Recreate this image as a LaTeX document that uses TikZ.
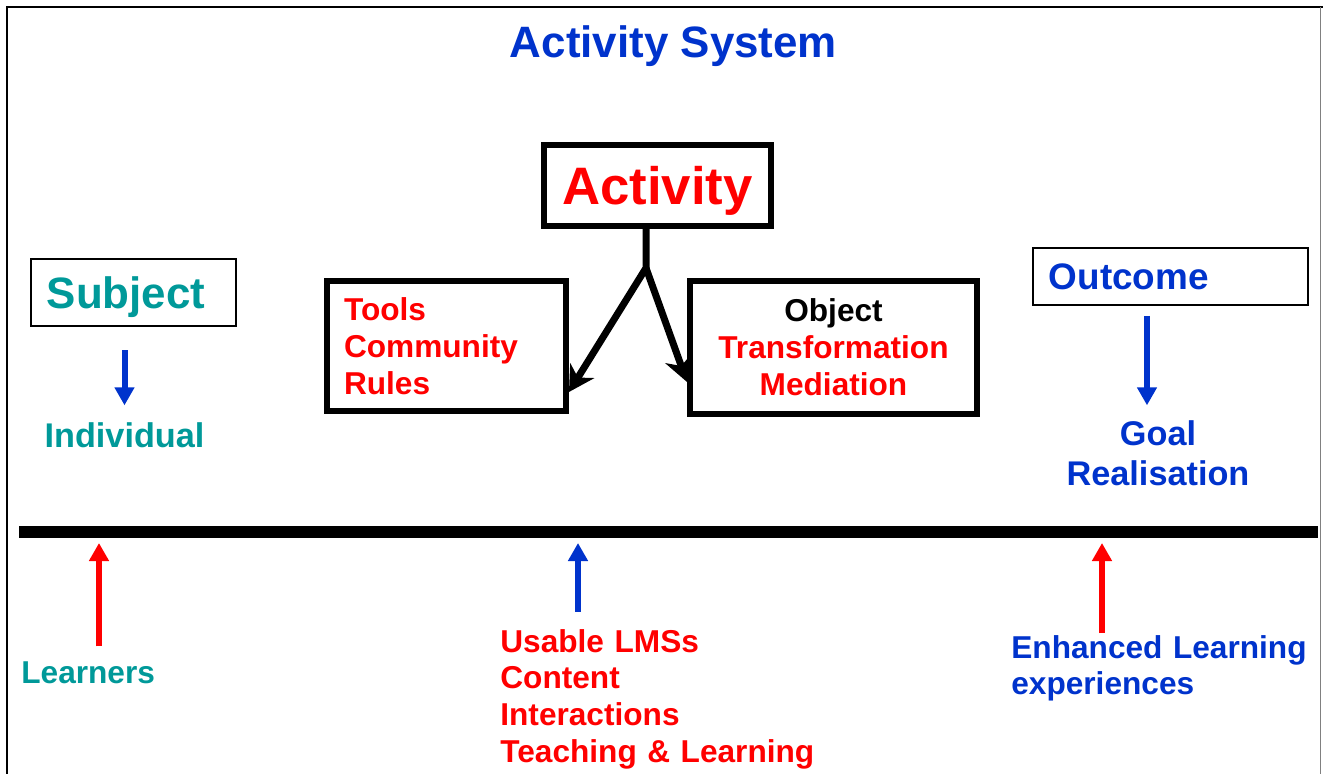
\documentclass[tikz,border=0pt]{standalone}
\usepackage{fontspec}
\setmainfont{Liberation Sans}
\usetikzlibrary{arrows.meta}
\definecolor{actred}{RGB}{255,0,0}
\definecolor{actblue}{RGB}{0,51,204}
\definecolor{actteal}{RGB}{0,153,153}

\begin{document}
\begin{tikzpicture}[x=0.02cm, y=-0.02cm,
thickbox/.style={rectangle, draw=black, line width=0.12cm, inner sep=0pt, font=\bfseries\fontsize{18}{21}\selectfont},
thinbox/.style={rectangle, draw=black, line width=0.03cm, inner xsep=0.32cm, inner ysep=0pt, align=left},
txtnode/.style={inner sep=0pt, font=\bfseries\fontsize{18}{21}\selectfont},
linkarrow/.style={line width=0.14cm, -{Stealth[length=0.5cm, width=0.56cm, inset=0.16cm]}},
smallarrow/.style={line width=0.12cm, -{Triangle[length=0.36cm, width=0.38cm]}},
]
    \useasboundingbox (0,0) rectangle (1323,774);

    \draw [line width=0.04cm] (7,774) -- (7,7) -- (1323,7);
    \draw [gray, line width=0.02cm] (1320,7) -- (1320,774);

    \node [txtnode, font=\bfseries\fontsize{25}{30}\selectfont, text=actblue, anchor=base] (t1) at (673.5,57) {Activity System};

    \node [thickbox, minimum width=4.54cm, minimum height=1.62cm, text depth=0pt, font=\bfseries\fontsize{30}{36}\selectfont, text=actred] (a1) at (657.5,185.5) {Activity};
    \node [thickbox, text width=4.1cm, inner xsep=0.34cm, minimum height=2.6cm, align=left, text=actred] (b1) at (446.5,346) {Tools\\Community\\Rules};
    \node [thickbox, text width=5.5cm, minimum width=5.74cm, minimum height=2.66cm, align=center, text=actred] (b2) at (833.5,347.5) {\textcolor{black}{Object}\\Transformation\\Mediation};

    \coordinate (f1) at (646,268);
    \draw [linkarrow] (f1 |- a1.south) -- (f1) -- ([yshift=0.44cm]b1.south east);
    \draw [linkarrow] (f1) -- ([yshift=0.7cm]b2.south west);

    \node [thinbox, text width=3.47cm, minimum height=1.35cm, text depth=0pt, font=\bfseries\fontsize{25}{30}\selectfont, text=actteal] (s1) at (133.5,292.5) {Subject};
    \node [txtnode, font=\bfseries\fontsize{19.5}{23}\selectfont, text=actteal, anchor=base] (s2) at (124.5,447) {Individual};
    \draw [smallarrow, actblue, shorten <=0.47cm, shorten >=0.33cm] (s2.north |- s1.south) -- (s2.north);

    \node [thinbox, text width=4.87cm, minimum height=1.15cm, font=\bfseries\fontsize{21}{25}\selectfont, text=actblue] (o1) at (1170.5,276.5) {Outcome};
    \node [txtnode, font=\bfseries\fontsize{19.5}{23.3}\selectfont, text=actblue, text width=4cm, align=center, anchor=base] (o2) at (1158,445) {Goal\\Realisation};
    \coordinate (q1) at ([xshift=-0.22cm]o2.north);
    \draw [smallarrow, actblue, shorten <=0.2cm, shorten >=0.29cm] (q1 |- o1.south) -- (q1);

    \coordinate (l0) at (19,532);
    \coordinate (l1) at (1318,532);
    \draw [line width=0.24cm] (l0) -- (l1);

    \node [txtnode, text=actteal, anchor=base west] (c1) at (21,683) {Learners};
    \node [txtnode, text=actred, text width=6.6cm, align=left, anchor=base west] (c2) at (500,652) {Usable LMSs\\Content\\Interactions\\Teaching \& Learning};
    \node [txtnode, text=actblue, text width=6.2cm, align=left, anchor=base west] (c3) at (1011,658) {Enhanced Learning\\experiences};

    \coordinate (p1) at (99,543);
    \coordinate (p2) at (578,543);
    \coordinate (p3) at (1102,543);
    \draw [smallarrow, actred, shorten <=0.29cm] (p1 |- c1.north) -- (p1);
    \draw [smallarrow, actblue, shorten <=0.34cm] (p2 |- c2.north) -- (p2);
    \draw [smallarrow, actred, shorten <=0.03cm] (p3 |- c3.north) -- (p3);

\end{tikzpicture}
\end{document}
